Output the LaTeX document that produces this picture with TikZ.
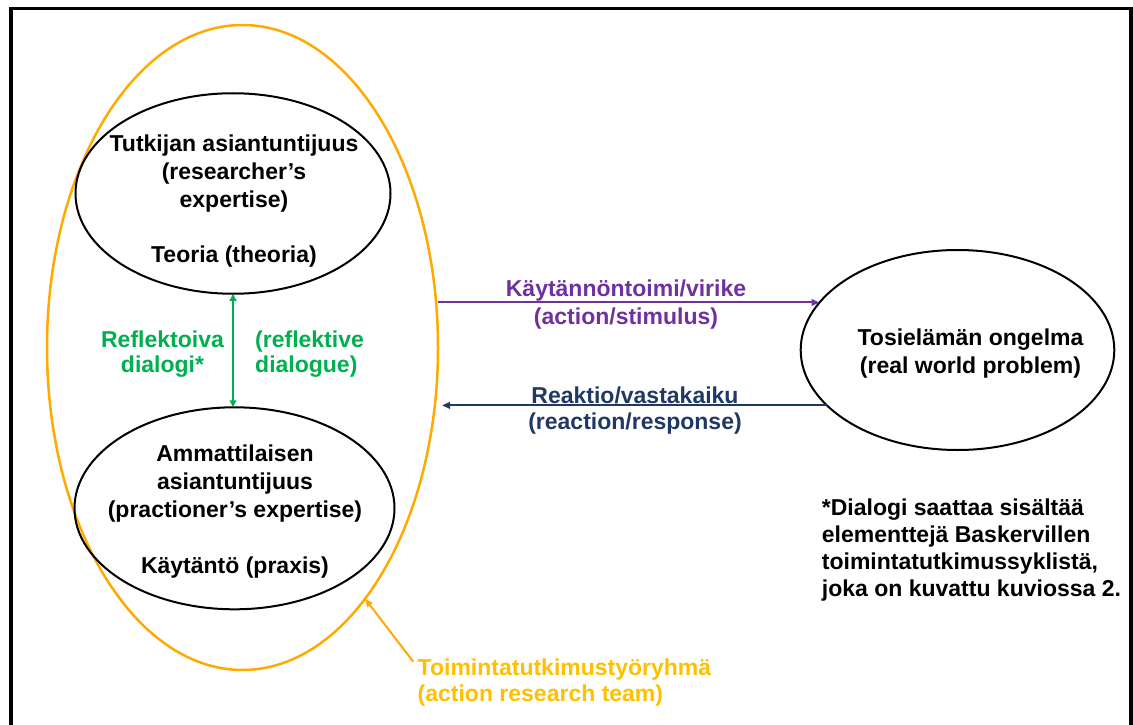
\documentclass[tikz,border=0pt]{standalone}
\usepackage{fontspec}
\setmainfont{Liberation Sans}
\usetikzlibrary{shapes.geometric,arrows.meta}

\definecolor{teamorange}{HTML}{FFAA00}
\definecolor{teamgold}{HTML}{FFC000}
\definecolor{dialoggreen}{HTML}{00B050}
\definecolor{actionpurple}{HTML}{7030A0}
\definecolor{reactionnavy}{HTML}{203864}

\begin{document}
\begin{tikzpicture}[x=1pt,y=-1pt,
  oval/.style={ellipse, draw=black, line width=2pt, inner sep=0pt, outer sep=0pt},
  lbl/.style={font=\bfseries\fontsize{23}{28}\selectfont, inner sep=0pt, align=center},
  tip/.style={-{Triangle[length=8pt,width=6.5pt]}},
  twotip/.style={{Triangle[length=7pt,width=6.5pt]}-{Triangle[length=7pt,width=6.5pt]}},
  link/.style={line width=2pt}
]
\useasboundingbox (0,0) rectangle (1133,725);

% outer frame (open at the bottom)
\draw[line width=3.2pt, line join=miter] (11,745) -- (11,8.5) -- (1131,8.5) -- (1131,745);

% ellipses
\node[oval, draw=teamorange, line width=2.5pt, minimum width=391pt, minimum height=645pt] (team) at (242.5,347.5) {};
\node[oval, minimum width=315pt, minimum height=200.5pt] (theory) at (233,193.5) {};
\node[oval, minimum width=320pt, minimum height=202pt] (practice) at (234.5,508.3) {};
\node[oval, minimum width=313.6pt, minimum height=200pt] (problem) at (957.5,350) {};

% texts inside the ellipses
\node[lbl] (theorytext) at (234,201.5) {Tutkijan asiantuntijuus\\(researcher’s\\expertise)\\[27pt]Teoria (theoria)};
\node[lbl] (practicetext) at (235,511.7) {Ammattilaisen\\asiantuntijuus\\(practioner’s expertise)\\[28pt]Käytäntö (praxis)};
\node[lbl] (problemtext) at (970.5,353.3) {Tosielämän ongelma\\(real world problem)};

% dialogue between theory and practice
\draw[link, dialoggreen, twotip] (theory.south) -- (theory.south |- practice.north);
\node[lbl, text=dialoggreen, font=\bfseries\fontsize{23}{25}\selectfont] (dialogfi) at (162.5,354) {Reflektoiva\\dialogi*};
\node[lbl, text=dialoggreen, font=\bfseries\fontsize{23}{25}\selectfont, align=left, anchor=west] (dialogen) at (255,354) {(reflektive\\dialogue)};

% action and reaction
\draw[link, actionpurple, tip] (team.east |- problem.161.3) -- (problem.161.3);
\node[lbl, text=actionpurple] (actiontext) at (626,305) {Käytännöntoimi/virike\\(action/stimulus)};
\draw[link, reactionnavy, tip] (problem.203.8) -- ([xshift=4pt]team.east |- problem.203.8);
\node[lbl, text=reactionnavy, font=\bfseries\fontsize{23}{26.5}\selectfont] (reactiontext) at (635,410.4) {Reaktio/vastakaiku\\(reaction/response)};

% footnote
\node[lbl, align=left, anchor=west, font=\bfseries\fontsize{23}{27.2}\selectfont] (note) at (821.7,550) {*Dialogi saattaa sisältää\\elementtejä Baskervillen\\toimintatutkimussyklistä,\\joka on kuvattu kuviossa 2.};

% team label with pointer
\node[lbl, text=teamgold, align=left, anchor=west, font=\bfseries\fontsize{23}{26.7}\selectfont] (teamtext) at (417.5,682.5) {Toimintatutkimustyöryhmä\\(action research team)};
\coordinate (teamtail) at (413.3,661.7);
\draw[link, teamorange, tip] (teamtail) -- (team.-64.8);
\end{tikzpicture}
\end{document}
